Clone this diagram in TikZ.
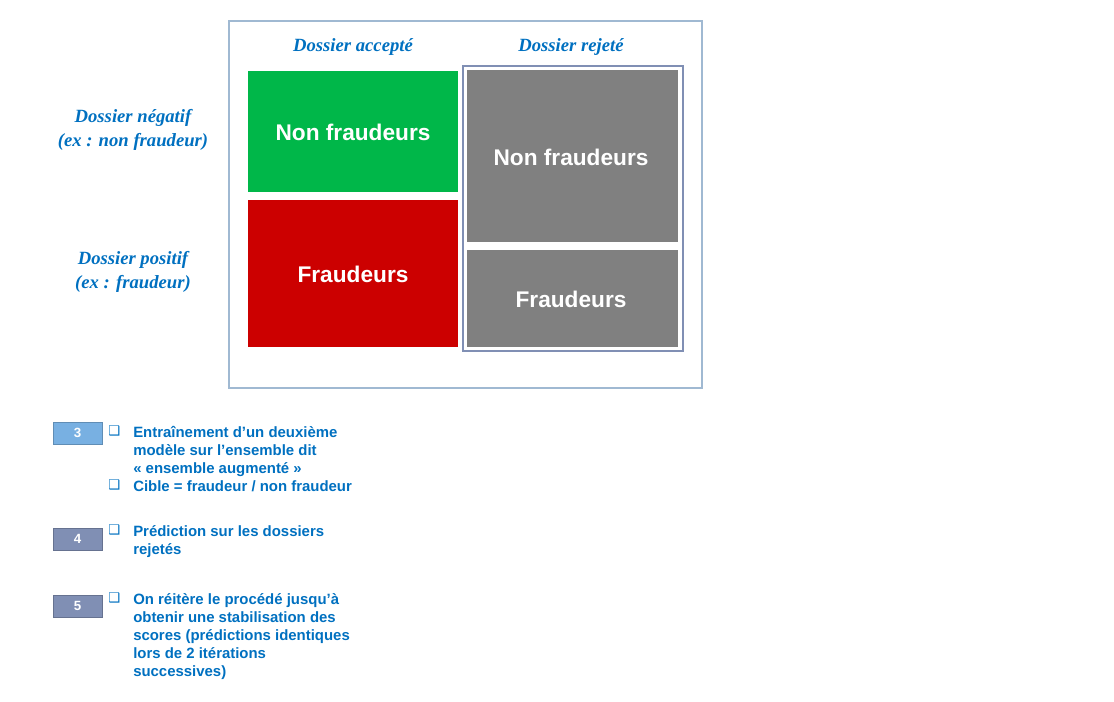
\documentclass[tikz,border=0pt]{standalone}
\usepackage{fontspec}
\setmainfont{Liberation Sans}
\newfontfamily\symfont{DejaVu Sans}
\newfontfamily\handfont{Liberation Serif}
\usetikzlibrary{positioning}
\definecolor{fr-blue}{RGB}{0,112,192}
\definecolor{fr-green}{RGB}{0,183,73}
\definecolor{fr-red}{RGB}{204,0,0}
\definecolor{fr-grey}{RGB}{128,128,128}
\definecolor{fr-frame}{RGB}{160,185,210}
\definecolor{fr-step3}{RGB}{120,176,226}
\definecolor{fr-step4}{RGB}{128,143,180}
\tikzset{
  cell/.style={text=white, font=\bfseries\fontsize{17}{20}\selectfont},
  hand/.style={text=fr-blue, font=\handfont\itshape\bfseries\fontsize{14}{18}\selectfont, align=center},
  stepbox/.style={draw=fr-step4!80!black, text=white, font=\bfseries\fontsize{10}{12}\selectfont},
  item/.style={text=fr-blue, font=\bfseries\fontsize{11.2}{13.5}\selectfont, align=left, anchor=north west, inner sep=0pt},
  tick/.style={text=fr-blue, font=\symfont\fontsize{10}{12}\selectfont, anchor=north west, inner sep=0pt}
}
\begin{document}
\begin{tikzpicture}[x=0.75pt,y=-0.75pt]
\useasboundingbox (0,0) rectangle (1114,701);
% matrix frame
\draw[fr-frame, line width=0.8pt] (229,21) rectangle (702,388);
\draw[fr-step4, line width=0.8pt] (463,66) rectangle (683,351);
\fill[fr-green] (248,71) rectangle (458,192);
\fill[fr-red] (248,200) rectangle (458,347);
\fill[fr-grey] (467,70) rectangle (678,242);
\fill[fr-grey] (467,250) rectangle (678,347);
\node[cell] (accnon) at (353,132) {Non fraudeurs};
\node[cell] (accfr) at (353,274) {Fraudeurs};
\node[cell] (rejnon) at (571,157) {Non fraudeurs};
\node[cell] (rejfr) at (571,299) {Fraudeurs};
\node[hand] (hacc) at (353,47) {Dossier accepté};
\node[hand] (hrej) at (571,47) {Dossier rejeté};
\node[hand] (hneg) at (133,130) {Dossier négatif\\(ex : non fraudeur)};
\node[hand] (hpos) at (133,272) {Dossier positif\\(ex : fraudeur)};
% steps
\node[stepbox, fill=fr-step3, draw=fr-step3!80!black, minimum width=36.75pt, minimum height=16.5pt] (s3) at (77.5,433) {3};
\node[stepbox, fill=fr-step4, minimum width=36.75pt, minimum height=16.5pt] (s4) at (77.5,539) {4};
\node[stepbox, fill=fr-step4, minimum width=36.75pt, minimum height=16.5pt] (s5) at (77.5,606) {5};
\node[tick] (t3a) at (108,426) {❑};
\node[item] (i3a) at (133,426) {Entraînement d’un deuxième\\modèle sur l’ensemble dit\\« ensemble augmenté »};
\node[tick] (t3b) at (108,480) {❑};
\node[item] (i3b) at (133,480) {Cible = fraudeur / non fraudeur};
\node[tick] (t4) at (108,525) {❑};
\node[item] (i4) at (133,525) {Prédiction sur les dossiers\\rejetés};
\node[tick] (t5) at (108,593) {❑};
\node[item] (i5) at (133,593) {On réitère le procédé jusqu’à\\obtenir une stabilisation des\\scores (prédictions identiques\\lors de 2 itérations\\successives)};
\end{tikzpicture}
\end{document}
